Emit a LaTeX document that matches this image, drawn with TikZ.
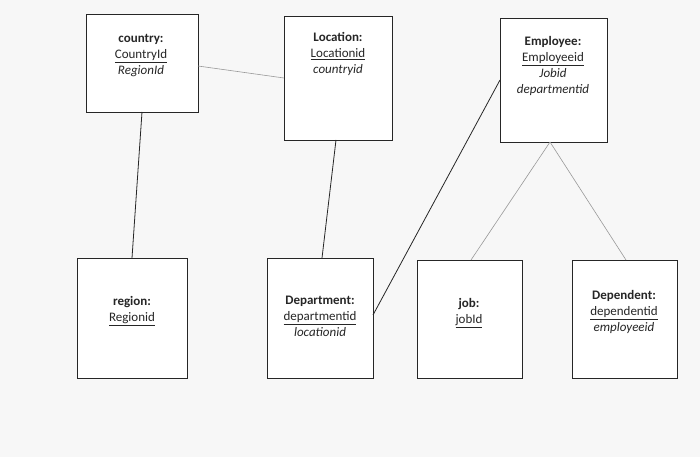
\documentclass[tikz,border=0pt]{standalone}
\usepackage{fontspec}
\setmainfont{Carlito}
\newcommand{\ul}[1]{\underline{#1}}
\begin{document}
\begin{tikzpicture}[x=1pt,y=-1pt,
  ent/.style={draw=black!85,line width=0.8pt,fill=white,anchor=north west,inner sep=0pt},
  lbl/.style={align=center,font=\fontsize{13}{16}\selectfont,text=black!85},
  dark/.style={draw=black!85,line width=0.8pt},
  light/.style={draw=black!40,line width=0.6pt}]
\fill[black!3] (0,0) rectangle (700,457);
\useasboundingbox (0,0) rectangle (700,457);
\node[ent,minimum width=112pt,minimum height=98pt] (country) at (86,14) {};
\node[ent,minimum width=108pt,minimum height=124pt] (location) at (284,16) {};
\node[ent,minimum width=107pt,minimum height=124pt] (employee) at (500,18) {};
\node[ent,minimum width=110pt,minimum height=120pt] (region) at (77,258) {};
\node[ent,minimum width=106pt,minimum height=120pt] (department) at (267,258) {};
\node[ent,minimum width=105pt,minimum height=118pt] (job) at (417,260) {};
\node[ent,minimum width=105pt,minimum height=118pt] (dependent) at (572,260) {};
\node[lbl,anchor=north] (tc) at (141,31) {\textbf{country:}\\\ul{CountryId}\\\textit{RegionId}};
\node[lbl,anchor=north] (tl) at (338,29) {\textbf{Location:}\\\ul{Locationid}\\\textit{countryid}};
\node[lbl,anchor=north] (te) at (553,33) {\textbf{Employee:}\\\ul{Employeeid}\\\textit{Jobid}\\\textit{departmentid}};
\node[lbl,anchor=north] (tr) at (132,293) {\textbf{region:}\\\ul{Regionid}};
\node[lbl,anchor=north] (td) at (320,293) {\textbf{Department:}\\\ul{departmentid}\\\textit{locationid}};
\node[lbl,anchor=north] (tj) at (469,295) {\textbf{job:}\\\ul{jobId}};
\node[lbl,anchor=north] (tp) at (624,287) {\textbf{Dependent:}\\\ul{dependentid}\\\textit{employeeid}};
\coordinate (ea) at (550,142);
\draw[light] (198,66) -- (284,78);
\draw[dark] (142,112) -- (132,258);
\draw[dark] (336,140) -- (322,258);
\draw[dark] (373,315) -- (500,80);
\draw[light] (ea) -- (471,260);
\draw[light] (ea) -- (626,260);
\end{tikzpicture}
\end{document}
